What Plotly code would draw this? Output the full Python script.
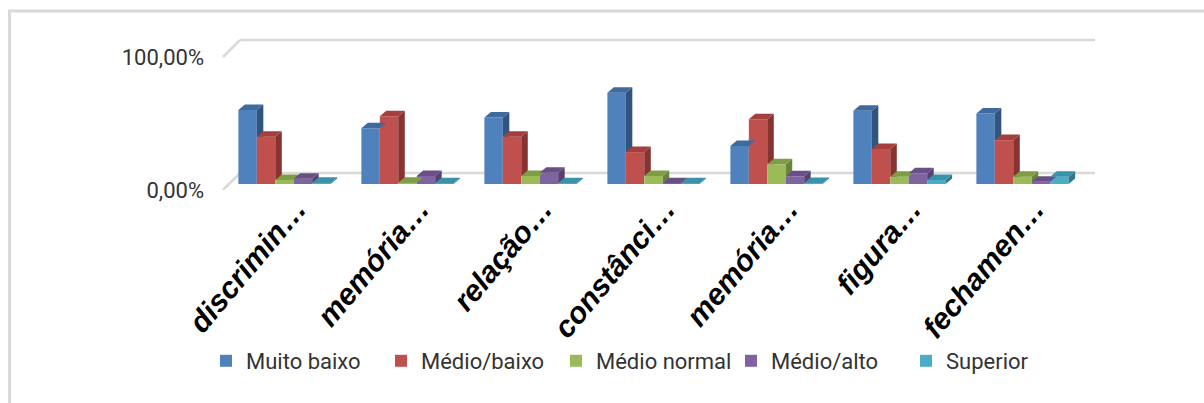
import plotly.graph_objects as go

# Categories (truncated labels as shown on the axis)
categories = ["discrimin…", "memória…", "relação…", "constânci…",
              "memória…", "figura…", "fechamen…"]

# Share of each level per category (fraction of 1)
muito_baixo  = [0.556, 0.420, 0.500, 0.686, 0.286, 0.550, 0.530]
medio_baixo  = [0.356, 0.510, 0.356, 0.240, 0.486, 0.263, 0.330]
medio_normal = [0.030, 0.010, 0.060, 0.060, 0.148, 0.055, 0.055]
medio_alto   = [0.040, 0.060, 0.085, 0.005, 0.058, 0.080, 0.017]
superior     = [0.010, 0.005, 0.005, 0.005, 0.008, 0.030, 0.055]

series_names = ["Muito baixo", "Médio/baixo", "Médio normal", "Médio/alto", "Superior"]
series_values = [muito_baixo, medio_baixo, medio_normal, medio_alto, superior]

y_tick_values = [0.0, 1.0]
y_tick_labels = ["0,00%", "100,00%"]

# front, top and side colours for each series (Office-style palette)
front_colors = ["#4F81BD", "#C0504D", "#9BBB59", "#8064A2", "#4BACC6"]
top_colors   = ["#3E6A9E", "#A3403D", "#7F9D45", "#684F88", "#3A92AA"]
side_colors  = ["#31557F", "#863331", "#68833A", "#56416F", "#2F7789"]

# ---- geometry of the pseudo-3D plot --------------------------------------
W, H = 1204, 403
ML, MR, MT, MB = 223, 120, 30, 213
PW, PH = W - ML - MR, H - MT - MB
n_cat = len(categories)
x_range = [-0.5, n_cat - 0.5]
px_per_x = PW / (x_range[1] - x_range[0])
px_per_y = 133.0                  # pixels per 100 %
base_px = 184.0                   # pixel row of the bar bases
y_range = [-(MT + PH - base_px) / px_per_y, (base_px - MT) / px_per_y]

n_ser = len(series_names)
BARGAP = 0.25
bar_w = (1 - BARGAP) / n_ser
DX = 6.5 / px_per_x               # depth of each bar (x units)
DY = 5.5 / px_per_y               # depth of each bar (y units)
WALL_DX_PX = 17                   # depth of the floor / wall in pixels
WALL_FRONT = ((MT + PH) - base_px) / px_per_y  # front edge sits below bar base
WALL_BACK = 11 / px_per_y         # back wall sits above bar base


def px_x(p):
    return (p - ML) / PW


def px_y(p):
    return (MT + PH - p) / PH


def clip_above(poly, ylim):
    out = []
    for i in range(len(poly)):
        p, q = poly[i], poly[(i + 1) % len(poly)]
        pin, qin = p[1] >= ylim, q[1] >= ylim
        if pin:
            out.append(p)
        if pin != qin:
            t = (ylim - p[1]) / (q[1] - p[1])
            out.append((p[0] + t * (q[0] - p[0]), ylim))
    return out


def polys_to_xy(polys):
    xs, ys = [], []
    for poly in polys:
        if len(poly) < 3:
            continue
        for (a, b) in poly:
            xs.append(a)
            ys.append(b)
        xs.append(poly[0][0])
        ys.append(poly[0][1])
        xs.append(None)
        ys.append(None)
    return xs, ys


fig = go.Figure()

x_idx = list(range(n_cat))

# front faces drawn as grouped bars
for k in range(n_ser):
    fig.add_trace(go.Bar(
        x=x_idx, y=series_values[k], name=series_names[k],
        marker=dict(color=front_colors[k], line=dict(width=0)),
        hoverinfo="skip",
    ))

# side and top faces, drawn left to right so nearer faces overlap correctly
for k in range(n_ser):
    sides, tops = [], []
    for i in range(n_cat):
        v = series_values[k][i]
        cx = i + (k - (n_ser - 1) / 2) * bar_w
        x0, x1 = cx - bar_w / 2, cx + bar_w / 2
        side = [(x1, 0), (x1 + DX, DY), (x1 + DX, v + DY), (x1, v)]
        if k < n_ser - 1:
            v_next = series_values[k + 1][i]
            side = clip_above(side, v_next) if v_next < v + DY else []
        sides.append(side)
        tops.append([(x0, v), (x1, v), (x1 + DX, v + DY), (x0 + DX, v + DY)])
    sx, sy = polys_to_xy(sides)
    tx, ty = polys_to_xy(tops)
    fig.add_trace(go.Scatter(x=sx, y=sy, fill="toself", fillcolor=side_colors[k],
                             mode="none", showlegend=False, hoverinfo="skip"))
    fig.add_trace(go.Scatter(x=tx, y=ty, fill="toself", fillcolor=top_colors[k],
                             mode="none", showlegend=False, hoverinfo="skip"))

# back-wall gridlines with the floor/wall diagonal on the left
grid = dict(color="#D9D9D9", width=2.5)
for v in y_tick_values:
    fig.add_shape(type="line", xref="paper", yref="y", layer="below",
                  x0=px_x(ML + WALL_DX_PX), x1=px_x(ML + PW + 11),
                  y0=v + WALL_BACK, y1=v + WALL_BACK, line=grid)
    fig.add_shape(type="line", xref="paper", yref="y", layer="below",
                  x0=px_x(ML), x1=px_x(ML + WALL_DX_PX),
                  y0=v - WALL_FRONT, y1=v + WALL_BACK, line=grid)

# chart frame (top and left edges)
frame = dict(color="#D9D9D9", width=3)
fig.add_shape(type="line", xref="paper", yref="paper",
              x0=px_x(8), x1=px_x(W + 2), y0=px_y(11), y1=px_y(11), line=frame)
fig.add_shape(type="line", xref="paper", yref="paper",
              x0=px_x(9.5), x1=px_x(9.5), y0=px_y(10), y1=px_y(H + 2), line=frame)

fig.update_layout(
    width=W, height=H,
    margin=dict(l=ML, r=MR, t=MT, b=MB, pad=0),
    paper_bgcolor="white", plot_bgcolor="white",
    barmode="group", bargap=BARGAP, bargroupgap=0,
    showlegend=True,
    legend=dict(
        orientation="h", x=px_x(206), xanchor="left",
        y=px_y(361), yanchor="middle",
        font=dict(family="Roboto, sans-serif", size=22, color="#333333"),
        entrywidth=130, entrywidthmode="pixels",
        itemclick=False, itemdoubleclick=False,
        bgcolor="rgba(0,0,0,0)",
    ),
    xaxis=dict(
        range=x_range, tickmode="array", tickvals=x_idx, ticktext=categories,
        tickangle=-50, showgrid=False, zeroline=False, showline=False,
        ticks="", ticklabelshift=12, ticklabelstandoff=-6,
        tickfont=dict(family="Liberation Sans, Arial, sans-serif", size=30,
                      color="black", weight="bold", style="italic"),
        fixedrange=True,
    ),
    yaxis=dict(
        range=y_range, tickmode="array",
        tickvals=[v - WALL_FRONT for v in y_tick_values], ticktext=y_tick_labels,
        showgrid=False, zeroline=False, showline=False, ticks="",
        ticklabelstandoff=18,
        tickfont=dict(family="Roboto, sans-serif", size=22, color="#333333"),
        fixedrange=True,
    ),
)

fig.write_html("out.html", config={"displayModeBar": False})
